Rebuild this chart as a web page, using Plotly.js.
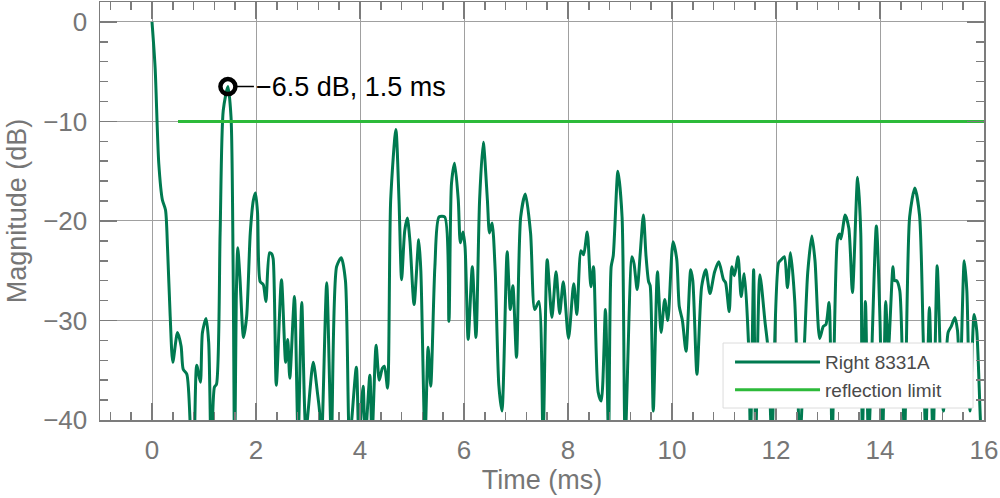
<!DOCTYPE html>
<html>
<head>
<meta charset="utf-8">
<script src="https://cdn.plot.ly/plotly-3.0.1.min.js"></script>
<style>html,body{margin:0;padding:0;background:#fff;}#chart{width:1000px;height:498px;}</style>
</head>
<body>
<div id="chart"></div>
<script>
// Impulse response magnitude, Right 8331A (time in ms, magnitude in dB)
var timeMs = [
  0.00,0.06,0.13,0.20,0.26,0.30,0.35,0.40,0.49,0.56,0.60,0.67,0.75,0.80,0.86,0.93,0.97,1.04,1.09,1.14,
  1.20,1.24,1.31,1.37,1.46,1.52,1.56,1.59,1.62,1.65,1.69,1.76,1.82,1.89,1.95,1.99,2.03,2.08,2.14,2.19,
  2.26,2.30,2.33,2.39,2.49,2.57,2.61,2.65,2.74,2.81,2.88,2.96,3.10,3.18,3.22,3.26,3.36,3.45,3.55,3.64,
  3.72,3.80,3.93,3.98,4.06,4.10,4.19,4.23,4.31,4.37,4.43,4.47,4.53,4.59,4.69,4.75,4.80,4.86,4.91,4.96,
  5.04,5.13,5.17,5.25,5.31,5.36,5.44,5.52,5.63,5.71,5.76,5.82,5.89,5.93,5.98,6.02,6.08,6.16,6.23,6.30,
  6.37,6.45,6.49,6.54,6.60,6.67,6.73,6.83,6.89,6.94,7.01,7.09,7.18,7.28,7.36,7.44,7.52,7.60,7.69,7.77,
  7.84,7.91,8.01,8.11,8.17,8.25,8.30,8.37,8.44,8.49,8.58,8.64,8.72,8.78,8.83,8.87,8.96,9.04,9.10,9.23,
  9.27,9.33,9.39,9.45,9.50,9.55,9.58,9.64,9.72,9.79,9.86,9.92,10.02,10.09,10.14,10.20,10.27,10.36,10.40,10.48,
  10.57,10.65,10.73,10.82,10.90,10.99,11.03,11.10,11.15,11.20,11.27,11.33,11.39,11.47,11.51,11.57,11.61,11.69,11.79,11.85,
  11.92,12.05,12.10,12.16,12.22,12.28,12.36,12.46,12.55,12.61,12.69,12.75,12.84,12.91,12.96,13.02,13.08,13.18,13.22,13.25,
  13.33,13.40,13.47,13.57,13.63,13.66,13.72,13.78,13.93,14.00,14.05,14.11,14.16,14.25,14.28,14.32,14.38,14.47,14.57,14.67,
  14.76,14.83,14.88,14.95,15.02,15.10,15.17,15.22,15.31,15.37,15.44,15.49,15.54,15.62,15.67,15.73,15.81,15.86,15.95,16.00
];
var magDb = [
  0,-4.6,-14.2,-17.9,-18.9,-22.9,-29.6,-34.2,-31.2,-32.6,-34.9,-35.4,-42,-44,-34.5,-36.2,-31.2,-29.8,-32.2,-44,
  -36.7,-36.4,-21.2,-8.9,-6.5,-9.6,-24.6,-45,-27.9,-22.7,-25.6,-31.7,-29.6,-21.2,-17.9,-17.2,-19.2,-26.1,-26.4,-28.1,
  -23.2,-23.3,-23.8,-36.5,-25.9,-34.2,-31.9,-35.8,-27.6,-42,-28.2,-41,-34.2,-37.2,-39,-42,-26.2,-42,-24.6,-23.7,
  -26,-42,-34.7,-42,-36.6,-42,-35.5,-42,-32.5,-36,-34.8,-34.6,-36.8,-17.9,-10.8,-17.9,-25.9,-21,-19.7,-22,
  -28.4,-21.9,-25,-42,-32.7,-36.6,-24.6,-19.6,-19.6,-30.1,-16.2,-14.2,-17.9,-22.2,-21.1,-22.6,-31.9,-24.6,-31.7,-17.9,
  -12.1,-17.9,-21.2,-20.2,-25,-36.5,-39.1,-23.1,-28.9,-26.5,-33.7,-19.6,-17.3,-21.2,-28.9,-28.1,-42,-23.9,-29.7,-25.1,
  -29.3,-26.1,-31.8,-26.3,-29.4,-23,-23.4,-21.1,-26.6,-24.6,-37.2,-38.1,-28.9,-42,-24.6,-23.5,-15.0,-19.6,-42,-23.6,
  -24.3,-26.9,-23.2,-19.4,-23.5,-26.1,-26.5,-39.1,-25.1,-31.2,-27.9,-30,-22.1,-23.8,-28.6,-30,-33.1,-24.9,-26,-35.4,
  -26.6,-24.9,-27.3,-25.1,-24.1,-25.9,-26.2,-29.1,-24.6,-25.5,-23.6,-27.6,-25.3,-32.1,-42,-24.9,-42,-25.4,-30.2,-33,
  -42,-24.2,-23.9,-23.6,-26.7,-23.2,-28,-42,-32,-25.2,-21.5,-24,-31.8,-30.6,-30.4,-28.2,-42,-21.9,-21.3,-21.8,
  -19.4,-20.7,-27.2,-15.6,-21.2,-42,-28.1,-42,-20.5,-30,-42,-28.1,-33,-24.6,-26,-26,-27,-42,-19.6,-16.7,
  -19.4,-31.5,-42,-28.7,-42,-24.5,-35,-39.1,-31.2,-30.6,-29.7,-31,-36,-24,-27,-39.1,-29.4,-31,-42,-44
];
var limitTime = [0.5, 16];
var limitDb = [-10, -10];
var peakTime = [1.46];
var peakDb = [-6.5];
var peakLabel = "\u22126.5 dB, 1.5 ms";

var greyTxt = '#767676';
var fontFam = 'Liberation Sans, Arial, sans-serif';
var tickCol = '#7c7c7c';

var traces = [
  {x: timeMs, y: magDb, type: 'scatter', mode: 'lines', name: 'Right 8331A',
   line: {color: '#007a50', width: 3, shape: 'spline', smoothing: 0.7}},
  {x: limitTime, y: limitDb, type: 'scatter', mode: 'lines', name: 'reflection limit',
   line: {color: '#2dba3a', width: 3}},
  {x: peakTime, y: peakDb, type: 'scatter', mode: 'markers', showlegend: false,
   marker: {symbol: 'circle-open', size: 15, color: '#000', line: {width: 4.5, color: '#000'}}}
];

var axisCommon = {
  showgrid: true, gridcolor: '#a0a0a0', gridwidth: 1,
  showline: true, linecolor: tickCol, linewidth: 1.5, mirror: 'allticks',
  ticks: 'inside', ticklen: 17, tickcolor: tickCol, tickwidth: 1.5,
  zeroline: false,
  tickfont: {family: fontFam, size: 26, color: greyTxt}
};

var layout = {
  width: 1000, height: 498,
  margin: {l: 100, r: 16, t: 2, b: 78},
  paper_bgcolor: '#fff', plot_bgcolor: '#fff',
  showlegend: true,
  xaxis: Object.assign({}, axisCommon, {
    range: [-1, 16], tick0: 0, dtick: 2, ticklabelstandoff: 6,
    minor: {ticks: 'inside', dtick: 0.4, tick0: 0, ticklen: 8, tickcolor: tickCol, tickwidth: 1.5, showgrid: false},
    title: {text: 'Time (ms)', font: {family: fontFam, size: 27, color: greyTxt}, standoff: 0}
  }),
  yaxis: Object.assign({}, axisCommon, {
    range: [-40, 2], tick0: 0, dtick: 10, ticklabelstandoff: 6,
    minor: {ticks: 'inside', dtick: 2, tick0: 0, ticklen: 8, tickcolor: tickCol, tickwidth: 1.5, showgrid: false},
    title: {text: 'Magnitude (dB)', font: {family: fontFam, size: 27, color: greyTxt}, standoff: 8}
  }),
  // legend frame drawn as a shape so its size matches the reference box
  shapes: [{
    type: 'rect', xref: 'paper', yref: 'paper', layer: 'above',
    x0: 0.7048, x1: 0.9876, y0: 0.0287, y1: 0.1842,
    fillcolor: '#ffffff', line: {color: '#dcdcdc', width: 1}
  }],
  legend: {
    x: 0.7127, y: 0.184, xanchor: 'left', yanchor: 'top',
    bgcolor: 'rgba(0,0,0,0)', borderwidth: 0,
    font: {family: fontFam, size: 19, color: '#4a4a4a'},
    itemwidth: 85, tracegroupgap: 0
  },
  annotations: [{
    x: peakTime[0], y: peakDb[0], xref: 'x', yref: 'y',
    text: peakLabel, showarrow: true, arrowhead: 0, arrowwidth: 1.5, arrowcolor: '#000',
    ax: 26, ay: 0, xanchor: 'left', standoff: 9,
    font: {family: fontFam, size: 27, color: '#000'}
  }]
};

Plotly.newPlot('chart', traces, layout, {displayModeBar: false, staticPlot: true});
</script>
</body>
</html>
